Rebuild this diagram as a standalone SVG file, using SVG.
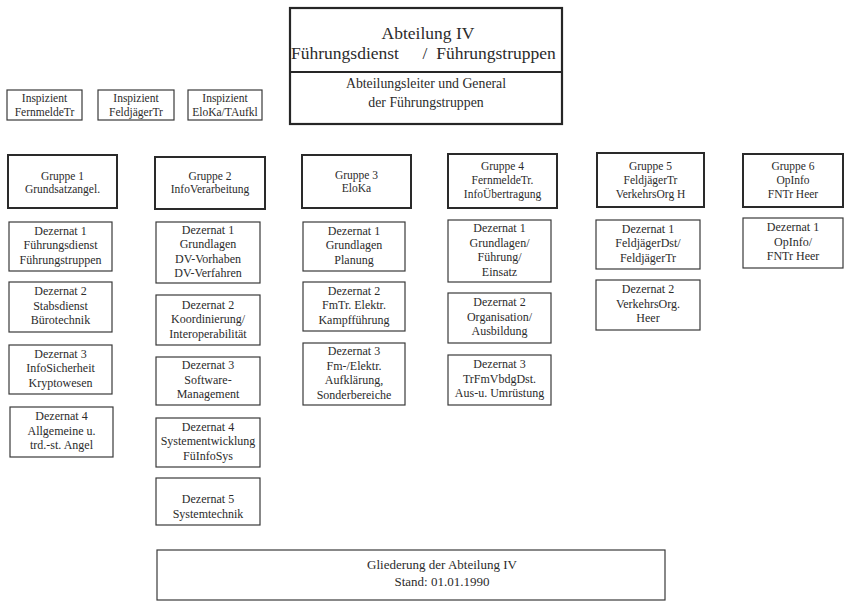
<svg xmlns="http://www.w3.org/2000/svg" width="845" height="603" viewBox="0 0 845 603">
  <style>
    .bg { fill: #ffffff; }
    .head { fill: #ffffff; stroke: #262626; stroke-width: 2.2; }
    .grp { fill: #ffffff; stroke: #2a2a2a; stroke-width: 2; }
    .dez { fill: #ffffff; stroke: #3a3a3a; stroke-width: 1.2; }
    .insp { fill: #ffffff; stroke: #3a3a3a; stroke-width: 1.2; }
    text { font-family: "Liberation Serif", "Times New Roman", serif; fill: #2b2b2b; text-anchor: middle; }
    .t-big { font-size: 17.5px; }
    .t-sub { font-size: 13.8px; }
    .t-grp { font-size: 11.5px; }
    .t-dez { font-size: 12px; }
    .t-insp { font-size: 11.5px; }
    .t-foot { font-size: 13px; }
  </style>

  <rect class="bg" x="0" y="0" width="845" height="603"/>

  <!-- Department head box -->
  <g id="abteilung">
    <rect class="head" x="290" y="8" width="272" height="116"/>
    <line x1="290" y1="72" x2="562" y2="72" stroke="#262626" stroke-width="2"/>
    <text class="t-big" x="428" y="39">Abteilung IV</text>
    <text class="t-big" x="345" y="59">Führungsdienst</text>
    <text class="t-big" x="425" y="59">/</text>
    <text class="t-big" x="496" y="59">Führungstruppen</text>
    <text class="t-sub" x="426" y="88">Abteilungsleiter und General</text>
    <text class="t-sub" x="426" y="107">der Führungstruppen</text>
  </g>

  <!-- Inspectors -->
  <g id="insp-fm">
    <rect class="insp" x="7" y="90" width="75" height="30"/>
    <text class="t-insp" x="44.5" y="102">Inspizient</text>
    <text class="t-insp" x="44.5" y="116">FernmeldeTr</text>
  </g>
  <g id="insp-fj">
    <rect class="insp" x="98" y="90" width="76" height="30"/>
    <text class="t-insp" x="136" y="102">Inspizient</text>
    <text class="t-insp" x="136" y="116">FeldjägerTr</text>
  </g>
  <g id="insp-eloka">
    <rect class="insp" x="188" y="90" width="74" height="30"/>
    <text class="t-insp" x="225" y="102">Inspizient</text>
    <text class="t-insp" x="225" y="116">EloKa/TAufkl</text>
  </g>

  <!-- Gruppe 1 -->
  <g id="gruppe1">
    <rect class="grp" x="8" y="155" width="109" height="53"/>
    <text class="t-grp" x="62.5" y="180">Gruppe 1</text>
    <text class="t-grp" x="62.5" y="193">Grundsatzangel.</text>
  </g>
  <g id="g1-dez1">
    <rect class="dez" x="9" y="222" width="103" height="49"/>
    <text class="t-dez" x="60.5" y="234.5">Dezernat 1</text>
    <text class="t-dez" x="60.5" y="249">Führungsdienst</text>
    <text class="t-dez" x="60.5" y="263.5">Führungstruppen</text>
  </g>
  <g id="g1-dez2">
    <rect class="dez" x="9" y="282" width="103" height="50"/>
    <text class="t-dez" x="60.5" y="295">Dezernat 2</text>
    <text class="t-dez" x="60.5" y="309.5">Stabsdienst</text>
    <text class="t-dez" x="60.5" y="324">Bürotechnik</text>
  </g>
  <g id="g1-dez3">
    <rect class="dez" x="9" y="345" width="103" height="49"/>
    <text class="t-dez" x="60.5" y="357.5">Dezernat 3</text>
    <text class="t-dez" x="60.5" y="372">InfoSicherheit</text>
    <text class="t-dez" x="60.5" y="386.5">Kryptowesen</text>
  </g>
  <g id="g1-dez4">
    <rect class="dez" x="10" y="407" width="103" height="50"/>
    <text class="t-dez" x="61.5" y="420">Dezernat 4</text>
    <text class="t-dez" x="61.5" y="434.5">Allgemeine u.</text>
    <text class="t-dez" x="61.5" y="449">trd.-st. Angel</text>
  </g>

  <!-- Gruppe 2 -->
  <g id="gruppe2">
    <rect class="grp" x="155" y="157" width="110" height="52"/>
    <text class="t-grp" x="210" y="180">Gruppe 2</text>
    <text class="t-grp" x="210" y="193">InfoVerarbeitung</text>
  </g>
  <g id="g2-dez1">
    <rect class="dez" x="156" y="222" width="104" height="61"/>
    <text class="t-dez" x="208" y="233.5">Dezernat 1</text>
    <text class="t-dez" x="208" y="248">Grundlagen</text>
    <text class="t-dez" x="208" y="262.5">DV-Vorhaben</text>
    <text class="t-dez" x="208" y="277">DV-Verfahren</text>
  </g>
  <g id="g2-dez2">
    <rect class="dez" x="156" y="295" width="104" height="50"/>
    <text class="t-dez" x="208" y="308.5">Dezernat 2</text>
    <text class="t-dez" x="208" y="323">Koordinierung/</text>
    <text class="t-dez" x="208" y="337.5">Interoperabilität</text>
  </g>
  <g id="g2-dez3">
    <rect class="dez" x="156" y="357" width="104" height="48"/>
    <text class="t-dez" x="208" y="369">Dezernat 3</text>
    <text class="t-dez" x="208" y="383.5">Software-</text>
    <text class="t-dez" x="208" y="398">Management</text>
  </g>
  <g id="g2-dez4">
    <rect class="dez" x="156" y="418" width="104" height="49"/>
    <text class="t-dez" x="208" y="430.5">Dezernat 4</text>
    <text class="t-dez" x="208" y="445">Systementwicklung</text>
    <text class="t-dez" x="208" y="459.5">FüInfoSys</text>
  </g>
  <g id="g2-dez5">
    <rect class="dez" x="156" y="478" width="104" height="47"/>
    <text class="t-dez" x="208" y="503">Dezernat 5</text>
    <text class="t-dez" x="208" y="518">Systemtechnik</text>
  </g>

  <!-- Gruppe 3 -->
  <g id="gruppe3">
    <rect class="grp" x="302" y="155" width="109" height="53"/>
    <text class="t-grp" x="356.5" y="179">Gruppe 3</text>
    <text class="t-grp" x="356.5" y="192">EloKa</text>
  </g>
  <g id="g3-dez1">
    <rect class="dez" x="303" y="222" width="102" height="49"/>
    <text class="t-dez" x="354" y="234.5">Dezernat 1</text>
    <text class="t-dez" x="354" y="249">Grundlagen</text>
    <text class="t-dez" x="354" y="263.5">Planung</text>
  </g>
  <g id="g3-dez2">
    <rect class="dez" x="303" y="282" width="102" height="49"/>
    <text class="t-dez" x="354" y="294.5">Dezernat 2</text>
    <text class="t-dez" x="354" y="309">FmTr. Elektr.</text>
    <text class="t-dez" x="354" y="323.5">Kampfführung</text>
  </g>
  <g id="g3-dez3">
    <rect class="dez" x="303" y="343" width="102" height="62"/>
    <text class="t-dez" x="354" y="355">Dezernat 3</text>
    <text class="t-dez" x="354" y="369.5">Fm-/Elektr.</text>
    <text class="t-dez" x="354" y="384">Aufklärung,</text>
    <text class="t-dez" x="354" y="398.5">Sonderbereiche</text>
  </g>

  <!-- Gruppe 4 -->
  <g id="gruppe4">
    <rect class="grp" x="448" y="154" width="109" height="54"/>
    <text class="t-grp" x="502.5" y="170">Gruppe 4</text>
    <text class="t-grp" x="502.5" y="184">FernmeldeTr.</text>
    <text class="t-grp" x="502.5" y="198">InfoÜbertragung</text>
  </g>
  <g id="g4-dez1">
    <rect class="dez" x="448" y="220" width="103" height="62"/>
    <text class="t-dez" x="499.5" y="232">Dezernat 1</text>
    <text class="t-dez" x="499.5" y="246.5">Grundlagen/</text>
    <text class="t-dez" x="499.5" y="261">Führung/</text>
    <text class="t-dez" x="499.5" y="275.5">Einsatz</text>
  </g>
  <g id="g4-dez2">
    <rect class="dez" x="448" y="293" width="103" height="50"/>
    <text class="t-dez" x="499.5" y="306">Dezernat 2</text>
    <text class="t-dez" x="499.5" y="320.5">Organisation/</text>
    <text class="t-dez" x="499.5" y="335">Ausbildung</text>
  </g>
  <g id="g4-dez3">
    <rect class="dez" x="448" y="355" width="103" height="50"/>
    <text class="t-dez" x="499.5" y="368">Dezernat 3</text>
    <text class="t-dez" x="499.5" y="382.5">TrFmVbdgDst.</text>
    <text class="t-dez" x="499.5" y="397">Aus-u. Umrüstung</text>
  </g>

  <!-- Gruppe 5 -->
  <g id="gruppe5">
    <rect class="grp" x="597" y="153" width="107" height="54"/>
    <text class="t-grp" x="650.5" y="170">Gruppe 5</text>
    <text class="t-grp" x="650.5" y="184">FeldjägerTr</text>
    <text class="t-grp" x="650.5" y="198">VerkehrsOrg H</text>
  </g>
  <g id="g5-dez1">
    <rect class="dez" x="596" y="220" width="104" height="49"/>
    <text class="t-dez" x="648" y="232.5">Dezernat 1</text>
    <text class="t-dez" x="648" y="247">FeldjägerDst/</text>
    <text class="t-dez" x="648" y="261.5">FeldjägerTr</text>
  </g>
  <g id="g5-dez2">
    <rect class="dez" x="596" y="280" width="104" height="50"/>
    <text class="t-dez" x="648" y="293">Dezernat 2</text>
    <text class="t-dez" x="648" y="307.5">VerkehrsOrg.</text>
    <text class="t-dez" x="648" y="322">Heer</text>
  </g>

  <!-- Gruppe 6 -->
  <g id="gruppe6">
    <rect class="grp" x="743" y="154" width="100" height="53"/>
    <text class="t-grp" x="793" y="170">Gruppe 6</text>
    <text class="t-grp" x="793" y="184">OpInfo</text>
    <text class="t-grp" x="793" y="198">FNTr Heer</text>
  </g>
  <g id="g6-dez1">
    <rect class="dez" x="743" y="218" width="100" height="50"/>
    <text class="t-dez" x="793" y="231">Dezernat 1</text>
    <text class="t-dez" x="793" y="245.5">OpInfo/</text>
    <text class="t-dez" x="793" y="260">FNTr Heer</text>
  </g>

  <!-- Caption box -->
  <g id="gliederung">
    <rect class="dez" x="157" y="550" width="508" height="50"/>
    <text class="t-foot" x="442" y="569">Gliederung der Abteilung IV</text>
    <text class="t-foot" x="442" y="586">Stand: 01.01.1990</text>
  </g>
</svg>
